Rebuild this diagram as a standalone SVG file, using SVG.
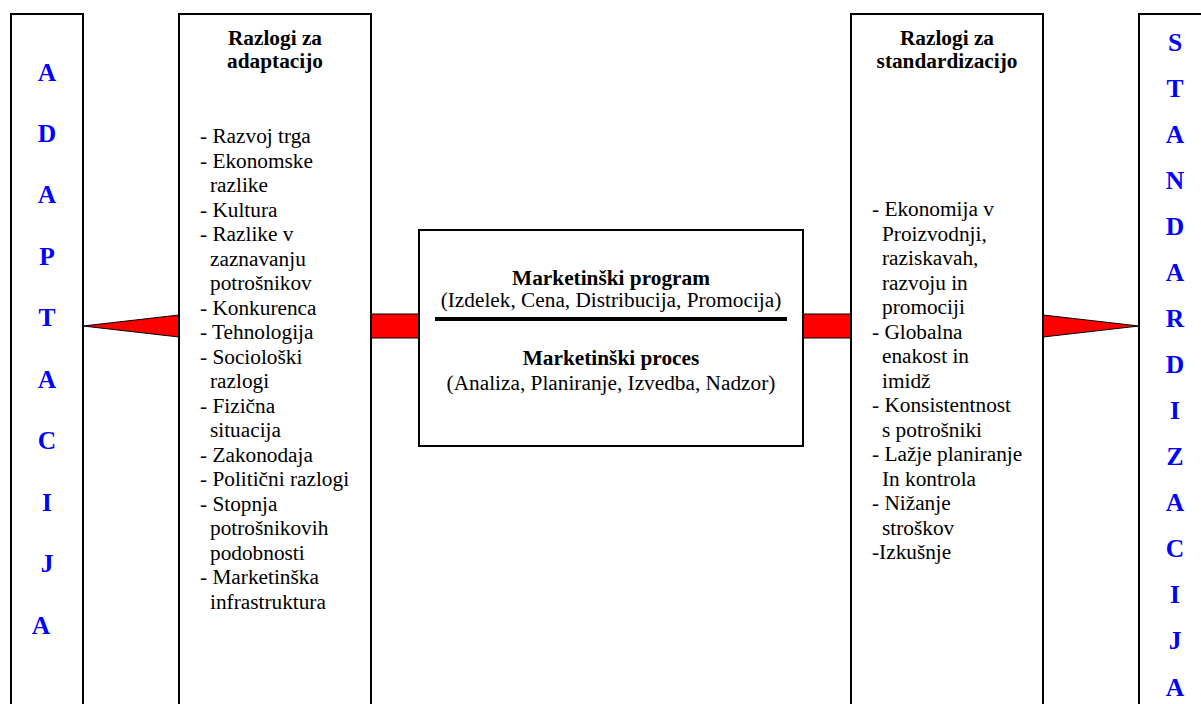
<svg xmlns="http://www.w3.org/2000/svg" width="1201" height="704" viewBox="0 0 1201 704">
<style>
.box{fill:#fff;stroke:#000;stroke-width:2}
.red{fill:#ff0000;stroke:#000;stroke-width:1}
.t{font-family:"Liberation Serif","Times New Roman",serif;font-size:21.3px;fill:#000}
.b{font-weight:bold}
.c{text-anchor:middle}
.let{font-family:"Liberation Serif","Times New Roman",serif;font-size:25.5px;font-weight:bold;fill:#0000ff;text-anchor:middle}
</style>
<rect width="1201" height="704" fill="#fff"/>
<g id="connectors">
<polygon class="red" points="83,326 179,315 179,337"/>
<rect class="red" x="371" y="314" width="48" height="24"/>
<rect class="red" x="803" y="314" width="48" height="24"/>
<polygon class="red" points="1139,326 1043,315 1043,337"/>
</g>
<g id="adaptacija">
<rect class="box" x="11" y="14" width="72" height="720"/>
<text class="let" x="47" y="80.5">A</text>
<text class="let" x="47" y="141.9">D</text>
<text class="let" x="47" y="203.4">A</text>
<text class="let" x="47" y="264.8">P</text>
<text class="let" x="47" y="326.3">T</text>
<text class="let" x="47" y="387.7">A</text>
<text class="let" x="47" y="449.1">C</text>
<text class="let" x="47" y="510.6">I</text>
<text class="let" x="47" y="572">J</text>
<text class="let" x="41" y="633.5">A</text>
</g>
<g id="razlogi-adaptacija">
<rect class="box" x="179" y="14" width="192" height="720"/>
<text class="t b c" x="275" y="45">Razlogi za</text>
<text class="t b c" x="275" y="68">adaptacijo</text>
<text class="t" x="200" y="143">- Razvoj trga</text>
<text class="t" x="200" y="167.5">- Ekonomske</text>
<text class="t" x="210" y="192">razlike</text>
<text class="t" x="200" y="216.5">- Kultura</text>
<text class="t" x="200" y="241">- Razlike v</text>
<text class="t" x="210" y="265.5">zaznavanju</text>
<text class="t" x="210" y="290">potrošnikov</text>
<text class="t" x="200" y="314.5">- Konkurenca</text>
<text class="t" x="200" y="339">- Tehnologija</text>
<text class="t" x="200" y="363.5">- Sociološki</text>
<text class="t" x="210" y="388">razlogi</text>
<text class="t" x="200" y="412.5">- Fizična</text>
<text class="t" x="210" y="437">situacija</text>
<text class="t" x="200" y="461.5">- Zakonodaja</text>
<text class="t" x="200" y="486">- Politični razlogi</text>
<text class="t" x="200" y="510.5">- Stopnja</text>
<text class="t" x="210" y="535">potrošnikovih</text>
<text class="t" x="210" y="559.5">podobnosti</text>
<text class="t" x="200" y="584">- Marketinška</text>
<text class="t" x="210" y="608.5">infrastruktura</text>
</g>
<g id="marketing">
<rect class="box" x="419" y="230" width="384" height="216"/>
<text class="t b c" x="611" y="285">Marketinški program</text>
<text class="t c" x="611" y="307">(Izdelek, Cena, Distribucija, Promocija)</text>
<line x1="435" y1="319" x2="787" y2="319" stroke="#000" stroke-width="4"/>
<text class="t b c" x="611" y="365">Marketinški proces</text>
<text class="t c" x="611" y="390">(Analiza, Planiranje, Izvedba, Nadzor)</text>
</g>
<g id="razlogi-standardizacija">
<rect class="box" x="851" y="14" width="192" height="720"/>
<text class="t b c" x="947" y="45">Razlogi za</text>
<text class="t b c" x="947" y="68">standardizacijo</text>
<text class="t" x="872" y="216">- Ekonomija v</text>
<text class="t" x="882" y="240.5">Proizvodnji,</text>
<text class="t" x="882" y="265">raziskavah,</text>
<text class="t" x="882" y="289.5">razvoju in</text>
<text class="t" x="882" y="314">promociji</text>
<text class="t" x="872" y="338.5">- Globalna</text>
<text class="t" x="882" y="363">enakost in</text>
<text class="t" x="882" y="387.5">imidž</text>
<text class="t" x="872" y="412">- Konsistentnost</text>
<text class="t" x="882" y="436.5">s potrošniki</text>
<text class="t" x="872" y="461">- Lažje planiranje</text>
<text class="t" x="882" y="485.5">In kontrola</text>
<text class="t" x="872" y="510">- Nižanje</text>
<text class="t" x="882" y="534.5">stroškov</text>
<text class="t" x="872" y="559">-Izkušnje</text>
</g>
<g id="standardizacija">
<rect class="box" x="1139" y="14" width="100" height="720"/>
<text class="let" x="1175" y="50.5">S</text>
<text class="let" x="1175" y="96.6">T</text>
<text class="let" x="1175" y="142.6">A</text>
<text class="let" x="1175" y="188.7">N</text>
<text class="let" x="1175" y="234.8">D</text>
<text class="let" x="1175" y="280.9">A</text>
<text class="let" x="1175" y="326.9">R</text>
<text class="let" x="1175" y="373">D</text>
<text class="let" x="1175" y="419.1">I</text>
<text class="let" x="1175" y="465.1">Z</text>
<text class="let" x="1175" y="511.2">A</text>
<text class="let" x="1175" y="557.3">C</text>
<text class="let" x="1175" y="603.4">I</text>
<text class="let" x="1175" y="649.4">J</text>
<text class="let" x="1175" y="695.5">A</text>
</g>
</svg>
